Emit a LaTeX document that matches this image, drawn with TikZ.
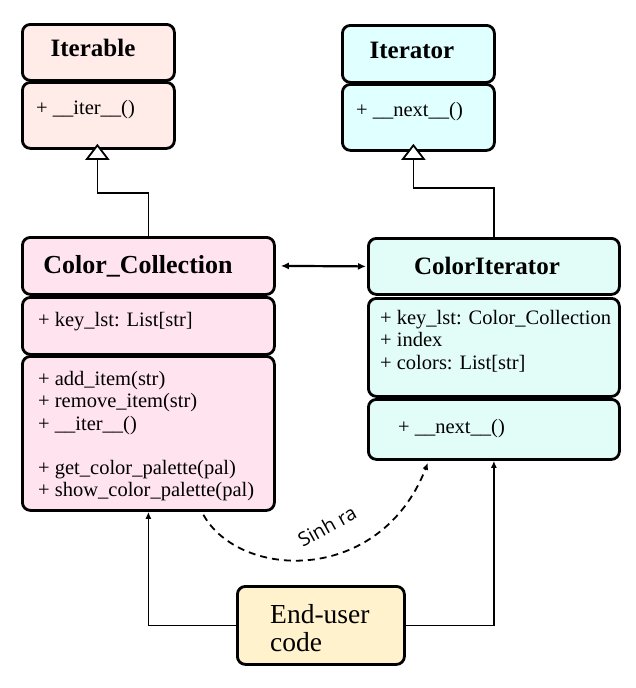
\documentclass[tikz,border=0pt]{standalone}
\usepackage{fontspec}
\setmainfont{Liberation Serif}
\newfontfamily\lblfont{Open Sans}
\usetikzlibrary{arrows.meta}
\definecolor{iterfill}{HTML}{FFEBE7}
\definecolor{ccfill}{HTML}{FFE4EF}
\definecolor{itrfill}{HTML}{E0FFFF}
\definecolor{cifill}{HTML}{E2FDF8}
\definecolor{endfill}{HTML}{FFF2CC}
\tikzset{
  box/.style={draw, line width=2.8pt, rounded corners=8pt, anchor=north west, inner sep=0pt},
  title/.style={inner sep=0pt, anchor=base, font=\bfseries\fontsize{25}{27}\selectfont},
  body/.style={inner sep=0pt, anchor=base west, font=\fontsize{20.5}{22.3}\selectfont},
  conn/.style={line width=1.8pt},
  inh/.style={conn, -{Triangle[open, fill=white, length=16pt, width=24pt]}},
  tip/.style={-{Latex[length=7pt, width=6pt]}}
}
\begin{document}
\begin{tikzpicture}[x=1pt, y=-1pt]
\useasboundingbox (0,0) rectangle (636,688);
% Iterable
\node[box, fill=iterfill, minimum width=152pt, minimum height=56pt] (itH) at (21,23) {};
\node[box, fill=iterfill, minimum width=152pt, minimum height=66pt] (itB) at (21,81) {};
\node[title] (itT) at (93,56) {Iterable};
\node[body] (itM) at (36,114) {+ \_\_iter\_\_()};
% Iterator
\node[box, fill=itrfill, minimum width=152pt, minimum height=57pt] (itrH) at (341,24) {};
\node[box, fill=itrfill, minimum width=152pt, minimum height=66pt] (itrB) at (341,83) {};
\node[title] (itrT) at (412,58) {Iterator};
\node[body] (itrM) at (356,116) {+ \_\_next\_\_()};
% Color_Collection
\node[box, fill=ccfill, minimum width=252pt, minimum height=57pt] (ccH) at (21,236) {};
\node[box, fill=ccfill, minimum width=252pt, minimum height=57pt] (ccA) at (21,296) {};
\node[box, fill=ccfill, minimum width=252pt, minimum height=154pt] (ccM) at (21,355) {};
\node[title, font=\bfseries\fontsize{26}{28}\selectfont] (ccT) at (138,273) {Color\_Collection};
\node[body] (ccA1) at (38,326) {+ key\_lst: List[str]};
\node[body, align=left, anchor=north west] (ccM1) at (38,371) {+ add\_item(str)\\+ remove\_item(str)\\+ \_\_iter\_\_()\\[22pt]+ get\_color\_palette(pal)\\+ show\_color\_palette(pal)};
% ColorIterator
\node[box, fill=cifill, minimum width=251pt, minimum height=56pt] (ciH) at (367,237) {};
\node[box, fill=cifill, minimum width=251pt, minimum height=98pt] (ciA) at (367,297) {};
\node[box, fill=cifill, minimum width=251pt, minimum height=60pt] (ciM) at (367,398) {};
\node[title] (ciT) at (487,274) {ColorIterator};
\node[body, align=left, anchor=north west] (ciA1) at (380,310) {+ key\_lst: Color\_Collection\\+ index\\+ colors: List[str]};
\node[body] (ciM1) at (398,433) {+ \_\_next\_\_()};
% End-user code
\node[box, fill=endfill, minimum width=167pt, minimum height=78pt] (end) at (236,585) {};
\node[inner sep=0pt, anchor=north west, align=left, font=\fontsize{27.5}{28.5}\selectfont] (endT) at (270,604) {End-user\\code};
% connectors
\draw[inh] (ccH.north) -- ++(0,-43) -| ([xshift=-1pt, yshift=6pt]itB.south);
\draw[inh] (ciH.north) -- ++(0,-49) -| ([xshift=-5pt, yshift=8pt]itrB.south);
\draw[conn, {Latex[length=8pt, width=7pt]}-{Latex[length=8pt, width=7pt]}, line width=2.2pt] ([xshift=5pt]ccH.east) -- ([xshift=-1pt]ciH.west);
\draw[conn, tip] (end.west) -| (ccM.south);
\draw[conn, tip] (end.east) -| (ciM.south);
\draw[conn, tip, dash pattern=on 7pt off 5pt] ([xshift=55pt, yshift=-3pt]ccM.south) .. controls (240,580) and (380,585) .. ([xshift=-66pt, yshift=-2pt]ciM.south);
\node[font=\lblfont\fontsize{19.5}{21}\selectfont, rotate=29, inner sep=0pt] (sinh) at (327,526) {Sinh ra};
\end{tikzpicture}
\end{document}
